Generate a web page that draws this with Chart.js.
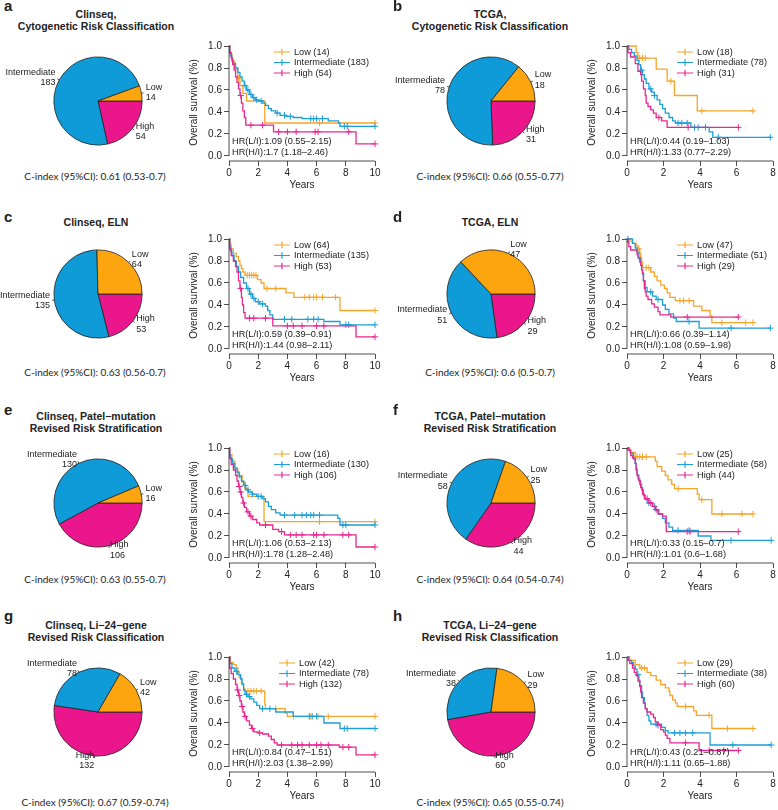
<!DOCTYPE html>
<html>
<head>
<meta charset="utf-8">
<script src="https://cdn.jsdelivr.net/npm/chart.js@4.4.1/dist/chart.umd.min.js"></script>
<style>
  html, body { margin: 0; padding: 0; background: #fff; }
  #page { position: relative; width: 778px; height: 810px; overflow: hidden;
          font-family: "Liberation Sans", Arial, sans-serif; color: #222; }
  .t { position: absolute; white-space: nowrap; line-height: 1.15; transform: translate(-50%, -50%); }
  .letter { position: absolute; white-space: nowrap; font-weight: bold; font-size: 15px;
            line-height: 1.15; transform: translate(0, -50%); }
  .title { font-weight: bold; font-size: 10.5px; }
  .cidx { font-family: Lato, "Open Sans", sans-serif; font-size: 10px; }
  canvas { position: absolute; }
</style>
</head>
<body>
<div id="page"></div>
<script>
// Risk groups (legend order) and colours
const groups = ["Low", "Intermediate", "High"];
const pieColors = ["#FDA50F", "#0F9BD7", "#EC168C"];
const kmColors = ["#F6A52A", "#1C9FD7", "#E8288F"];

const panelLetters = ["a", "b", "c", "d", "e", "f", "g", "h"];
const panelTitles = [
  ["Clinseq,", "Cytogenetic Risk Classification"],
  ["TCGA,", "Cytogenetic Risk Classification"],
  ["Clinseq, ELN"],
  ["TCGA, ELN"],
  ["Clinseq, Patel\u2212mutation", "Revised Risk Stratification"],
  ["TCGA, Patel\u2212mutation", "Revised Risk Stratification"],
  ["Clinseq, Li\u221224\u2212gene", "Revised Risk Classification"],
  ["TCGA, Li\u221224\u2212gene", "Revised Risk Classification"],
];
const cIndexText = [
  "C-index (95%CI): 0.61 (0.53-0.7)",
  "C-index (95%CI): 0.66 (0.55-0.77)",
  "C-index (95%CI): 0.63 (0.56-0.7)",
  "C-index (95%CI): 0.6 (0.5-0.7)",
  "C-index (95%CI): 0.63 (0.55-0.7)",
  "C-index (95%CI): 0.64 (0.54-0.74)",
  "C-index (95%CI): 0.67 (0.59-0.74)",
  "C-index (95%CI): 0.65 (0.55-0.74)",
];
const hrLowText = [
  "HR(L/I):1.09 (0.55\u20132.15)", "HR(L/I):0.44 (0.19\u20131.03)",
  "HR(L/I):0.59 (0.39\u20130.91)", "HR(L/I):0.66 (0.39\u20131.14)",
  "HR(L/I):1.06 (0.53\u20132.13)", "HR(L/I):0.33 (0.15\u20130.7)",
  "HR(L/I):0.84 (0.47\u20131.51)", "HR(L/I):0.43 (0.21\u20130.87)",
];
const hrHighText = [
  "HR(H/I):1.7 (1.18\u20132.46)", "HR(H/I):1.33 (0.77\u20132.29)",
  "HR(H/I):1.44 (0.98\u20132.11)", "HR(H/I):1.08 (0.59\u20131.98)",
  "HR(H/I):1.78 (1.28\u20132.48)", "HR(H/I):1.01 (0.6\u20131.68)",
  "HR(H/I):2.03 (1.38\u20132.99)", "HR(H/I):1.11 (0.65\u20131.88)",
];
const yearsMax = [10, 8, 10, 8, 10, 8, 10, 8];
const survTicks = [0, 0.2, 0.4, 0.6, 0.8, 1.0];

// Group sizes (Low, Intermediate, High)
const countsA = [14, 183, 54];
const countsB = [18, 78, 31];
const countsC = [64, 135, 53];
const countsD = [47, 51, 29];
const countsE = [16, 130, 106];
const countsF = [25, 58, 44];
const countsG = [42, 78, 132];
const countsH = [29, 38, 60];

// Kaplan-Meier steps [years, survival after step] and censoring times
const aLow = [[0,1],[0.05,.93],[0.2,.86],[0.4,.79],[0.6,.71],[0.75,.64],[0.95,.57],[1.2,.5],[2.45,.3]];
const aLowCens = [0.65, 6.2, 10];
const aInt = [[0,1],[0.05,.95],[0.1,.91],[0.2,.87],[0.3,.84],[0.45,.8],[0.6,.76],[0.75,.72],[0.9,.68],[1.05,.64],[1.2,.6],[1.4,.56],[1.6,.53],[1.8,.51],[2.0,.5],[2.3,.48],[2.5,.46],[2.7,.43],[2.9,.41],[3.2,.39],[3.5,.37],[3.9,.36],[4.4,.35],[5.0,.34],[6.8,.32],[7.5,.3],[7.6,.27]];
const aIntCens = [1.1, 1.3, 1.5, 1.7, 1.9, 2.2, 3.3, 3.8, 4.2, 5.6, 5.8, 6.0, 6.4, 7.9, 8.1, 10];
const aHigh = [[0,1],[0.05,.94],[0.15,.89],[0.25,.83],[0.35,.78],[0.45,.72],[0.55,.67],[0.65,.61],[0.75,.55],[0.85,.48],[0.95,.41],[1.05,.35],[1.15,.28],[3.05,.22],[8.7,.11]];
const aHighCens = [0.8, 1.5, 2.3, 3.4, 4.0, 4.6, 5.9, 6.1, 8.2, 10];

const bLow = [[0,1],[0.5,.94],[0.6,.89],[1.6,.79],[2.2,.68],[2.6,.55],[3.85,.41]];
const bLowCens = [0.7, 0.85, 1.0, 2.4, 4.1, 6.9];
const bInt = [[0,1],[0.1,.97],[0.25,.94],[0.4,.91],[0.55,.87],[0.65,.83],[0.75,.78],[0.85,.74],[0.95,.7],[1.05,.66],[1.2,.61],[1.35,.58],[1.5,.55],[1.65,.51],[1.8,.47],[1.95,.43],[2.1,.39],[2.3,.35],[2.5,.32],[2.65,.3],[3.5,.26],[4.5,.22],[4.7,.17]];
const bIntCens = [0.8, 1.3, 1.5, 2.8, 3.0, 3.3, 3.7, 3.9, 4.3, 5.0, 7.85];
const bHigh = [[0,1],[0.05,.94],[0.2,.9],[0.45,.84],[0.6,.77],[0.75,.74],[0.8,.68],[0.9,.61],[1.0,.55],[1.05,.48],[1.15,.45],[1.3,.42],[1.45,.39],[1.6,.35],[1.9,.32],[2.2,.26]];
const bHighCens = [1.75, 3.35, 6.1];

const cLow = [[0,1],[0.05,.95],[0.15,.91],[0.3,.87],[0.5,.84],[0.65,.8],[0.75,.76],[0.85,.73],[0.95,.7],[1.1,.67],[1.95,.63],[2.2,.6],[2.4,.55],[3.9,.51],[4.45,.47],[7.6,.35]];
const cLowCens = [1.25, 1.4, 1.55, 1.7, 1.85, 2.6, 3.2, 5.2, 5.5, 5.8, 6.0, 6.4, 7.3, 10];
const cInt = [[0,1],[0.05,.93],[0.1,.89],[0.2,.85],[0.35,.8],[0.5,.75],[0.65,.7],[0.8,.65],[1.0,.6],[1.2,.55],[1.4,.5],[1.6,.46],[1.8,.43],[2.1,.41],[2.5,.39],[2.65,.35],[2.8,.31],[3.0,.27],[6.5,.25],[7.6,.22]];
const cIntCens = [1.3, 1.5, 1.7, 2.0, 2.3, 3.8, 4.3, 5.4, 5.8, 6.1, 8.0, 8.2, 10];
const cHigh = [[0,1],[0.05,.91],[0.15,.85],[0.3,.8],[0.45,.75],[0.55,.7],[0.65,.62],[0.75,.55],[0.85,.47],[0.92,.4],[1.0,.33],[1.1,.28],[3.0,.21],[8.7,.11]];
const cHighCens = [0.8, 1.4, 1.7, 2.5, 4.0, 4.4, 5.0, 6.0, 6.5, 10];

const dLow = [[0,1],[0.1,.98],[0.3,.96],[0.5,.94],[0.6,.91],[0.7,.87],[0.75,.83],[0.8,.79],[0.85,.74],[1.3,.7],[1.5,.66],[1.65,.62],[1.85,.58],[2.05,.55],[2.2,.51],[2.35,.47],[2.65,.44],[3.65,.39],[4.1,.35],[4.55,.3],[4.65,.24]];
const dLowCens = [0.65, 1.05, 1.2, 2.9, 3.1, 3.4, 5.2, 6.5, 6.9];
const dInt = [[0,1],[0.3,.96],[0.45,.92],[0.55,.88],[0.65,.82],[0.75,.76],[0.8,.72],[0.85,.68],[0.9,.62],[1.0,.56],[1.1,.52],[1.4,.48],[1.6,.45],[1.95,.4],[2.1,.36],[2.3,.32],[2.55,.28],[2.7,.25],[3.95,.19]];
const dIntCens = [0.05, 1.3, 1.7, 3.4, 5.7, 7.85];
const dHigh = [[0,1],[0.05,.97],[0.1,.93],[0.2,.9],[0.55,.86],[0.6,.83],[0.7,.79],[0.75,.76],[0.8,.72],[0.85,.69],[0.9,.62],[0.95,.55],[1.0,.52],[1.05,.48],[1.15,.45],[1.35,.41],[1.5,.38],[1.7,.34],[1.8,.31],[2.4,.29]];
const dHighCens = [3.3, 6.1];

const eLow = [[0,1],[0.05,.94],[0.2,.88],[0.4,.81],[0.6,.75],[0.9,.69],[1.1,.63],[1.3,.56],[2.4,.33]];
const eLowCens = [0.7, 6.2, 10];
const eInt = [[0,1],[0.05,.94],[0.1,.9],[0.25,.86],[0.4,.82],[0.55,.78],[0.7,.74],[0.85,.7],[1.0,.66],[1.15,.62],[1.35,.6],[1.6,.58],[1.9,.56],[2.3,.54],[2.5,.51],[2.7,.47],[2.9,.44],[3.2,.41],[3.5,.39],[7.45,.36],[7.6,.3]];
const eIntCens = [1.1, 1.3, 1.6, 2.0, 2.2, 3.8, 4.5, 5.0, 5.3, 5.6, 5.8, 6.2, 7.8, 8.0, 10];
const eHigh = [[0,1],[0.05,.91],[0.15,.85],[0.3,.8],[0.45,.75],[0.55,.7],[0.65,.65],[0.75,.6],[0.85,.55],[0.95,.5],[1.05,.46],[1.2,.42],[1.4,.38],[1.6,.35],[1.9,.32],[2.1,.3],[3.0,.26],[3.4,.24],[3.8,.21],[8.7,.1]];
const eHighCens = [0.7, 0.8, 1.0, 1.3, 1.5, 2.5, 3.6, 4.2, 4.6, 5.0, 5.8, 6.0, 6.5, 7.8, 8.2, 10];

const fLow = [[0,1],[0.15,.96],[0.45,.92],[1.55,.88],[1.65,.83],[1.9,.79],[2.1,.75],[2.25,.71],[2.45,.67],[2.6,.63],[3.85,.58],[3.95,.53],[4.65,.4]];
const fLowCens = [0.55, 0.7, 0.85, 1.05, 2.8, 4.1, 5.2, 6.3, 6.9];
const fInt = [[0,1],[0.05,.98],[0.2,.95],[0.35,.9],[0.45,.86],[0.5,.81],[0.55,.76],[0.6,.72],[0.7,.67],[0.8,.62],[0.9,.57],[1.0,.53],[1.2,.5],[1.4,.47],[1.55,.43],[1.75,.4],[1.95,.36],[2.1,.32],[2.3,.28],[2.5,.25],[3.9,.2],[4.6,.16]];
const fIntCens = [1.2, 1.5, 2.8, 3.4, 5.7, 7.9];
const fHigh = [[0,1],[0.1,.98],[0.2,.93],[0.3,.91],[0.45,.86],[0.5,.8],[0.55,.75],[0.65,.7],[0.75,.64],[0.85,.58],[0.95,.54],[1.15,.5],[1.4,.47],[1.55,.44],[1.7,.4],[1.95,.38],[2.15,.24]];
const fHighCens = [1.1, 1.3, 1.6, 3.3, 3.45, 6.1];

const gLow = [[0,1],[0.1,.95],[0.3,.93],[0.5,.9],[0.6,.86],[0.7,.81],[0.85,.76],[1.0,.71],[1.1,.69],[2.45,.57],[2.5,.53],[3.85,.49],[4.0,.46]];
const gLowCens = [1.3, 1.5, 1.7, 1.9, 2.2, 3.2, 4.4, 5.6, 6.1, 6.8, 10];
const gInt = [[0,1],[0.05,.94],[0.2,.9],[0.4,.87],[0.6,.84],[0.8,.8],[0.9,.75],[1.0,.7],[1.1,.66],[1.3,.64],[1.5,.62],[1.7,.59],[1.9,.56],[2.1,.53],[3.2,.5],[4.4,.46],[6.5,.4],[7.6,.35]];
const gIntCens = [0.5, 1.2, 1.4, 2.3, 2.8, 5.5, 5.7, 6.0, 7.9, 8.1, 10];
const gHigh = [[0,1],[0.05,.9],[0.15,.85],[0.3,.8],[0.45,.75],[0.55,.7],[0.65,.65],[0.75,.6],[0.85,.55],[0.95,.5],[1.05,.46],[1.2,.42],[1.4,.38],[1.55,.35],[1.7,.32],[2.0,.31],[2.3,.3],[2.7,.28],[2.9,.25],[3.1,.22],[3.3,.2],[7.55,.18],[8.7,.11]];
const gHighCens = [0.6, 0.7, 0.9, 1.1, 1.6, 2.1, 3.6, 4.3, 4.7, 5.0, 5.5, 6.0, 6.3, 6.8, 7.8, 8.2, 10];

const hLow = [[0,1],[0.15,.97],[0.45,.93],[0.7,.9],[1.1,.86],[1.3,.83],[1.6,.79],[1.85,.75],[2.1,.72],[2.3,.69],[2.35,.65],[2.5,.61],[2.65,.58],[2.75,.55],[3.65,.51],[3.8,.47],[4.65,.35]];
const hLowCens = [0.8, 0.95, 3.2, 4.5, 5.5, 6.9];
const hInt = [[0,1],[0.1,.97],[0.25,.95],[0.35,.92],[0.45,.89],[0.55,.84],[0.65,.79],[0.7,.74],[0.8,.68],[0.85,.63],[0.95,.58],[1.0,.53],[1.1,.47],[1.2,.42],[1.3,.39],[1.9,.36],[2.1,.33],[2.25,.31],[4.55,.2]];
const hIntCens = [0.6, 1.6, 2.6, 2.9, 3.2, 3.6, 5.8, 7.9];
const hHigh = [[0,1],[0.05,.97],[0.15,.94],[0.3,.9],[0.4,.86],[0.5,.83],[0.6,.78],[0.7,.73],[0.75,.68],[0.8,.63],[0.9,.58],[1.0,.53],[1.1,.5],[1.3,.48],[1.45,.45],[1.55,.41],[1.7,.38],[1.85,.34],[2.0,.32],[2.1,.29],[2.2,.26],[2.35,.22],[3.95,.15]];
const hHighCens = [1.7, 3.2, 4.5, 5.3, 6.1];

const panelCounts = [countsA, countsB, countsC, countsD, countsE, countsF, countsG, countsH];
const panelCurves = [
  [aLow, aInt, aHigh], [bLow, bInt, bHigh], [cLow, cInt, cHigh], [dLow, dInt, dHigh],
  [eLow, eInt, eHigh], [fLow, fInt, fHigh], [gLow, gInt, gHigh], [hLow, hInt, hHigh],
];
const panelCens = [
  [aLowCens, aIntCens, aHighCens], [bLowCens, bIntCens, bHighCens],
  [cLowCens, cIntCens, cHighCens], [dLowCens, dIntCens, dHighCens],
  [eLowCens, eIntCens, eHighCens], [fLowCens, fIntCens, fHighCens],
  [gLowCens, gIntCens, gHighCens], [hLowCens, hIntCens, hHighCens],
];

// Layout
const rowTop = [0, 193, 402, 611];
const letterX = [4, 393];
const letterY = [5.7, 217.2, 410.4, 615.7];
const titleX = [96, 490];
const pieCx = [97.5, 490.5];
const kmLeft = [229, 627];
const kmRight = [375, 775];
const cIndexX = [95, 490];
const cIndexY = [177, 373, 580, 803];

Chart.defaults.font.family = '"Liberation Sans", Arial, sans-serif';
Chart.defaults.color = "#222";

const page = document.getElementById("page");

function addText(cls, text, x, y) {
  const d = document.createElement("div");
  d.className = cls;
  d.textContent = text;
  d.style.left = x + "px";
  d.style.top = y + "px";
  page.appendChild(d);
  return d;
}

function addCanvas(x, y, w, h) {
  const c = document.createElement("canvas");
  c.width = w;
  c.height = h;
  c.style.left = x + "px";
  c.style.top = y + "px";
  c.style.width = w + "px";
  c.style.height = h + "px";
  page.appendChild(c);
  return c;
}

// R-style pie labels: tick from r to 1.05r, text at 1.1r
const pieLabels = {
  id: "pieLabels",
  afterDraw(chart) {
    const ctx = chart.ctx;
    const meta = chart.getDatasetMeta(0);
    const values = chart.data.datasets[0].data;
    const names = chart.data.labels;
    ctx.save();
    ctx.font = '9px "Liberation Sans", Arial, sans-serif';
    ctx.fillStyle = "#222";
    ctx.strokeStyle = "#222";
    ctx.lineWidth = 0.8;
    ctx.textBaseline = "middle";
    meta.data.forEach((arc, i) => {
      const p = arc.getProps(["x", "y", "startAngle", "endAngle", "outerRadius"], true);
      const mid = (p.startAngle + p.endAngle) / 2;
      const dx = Math.cos(mid) * p.outerRadius;
      const dy = Math.sin(mid) * p.outerRadius;
      ctx.beginPath();
      ctx.moveTo(p.x + dx, p.y + dy);
      ctx.lineTo(p.x + 1.05 * dx, p.y + 1.05 * dy);
      ctx.stroke();
      const lx = p.x + 1.1 * dx;
      const ly = p.y + 1.1 * dy;
      ctx.textAlign = dx < 0 ? "right" : "left";
      ctx.fillText(names[i], lx, ly - 5.25);
      ctx.fillText(String(values[i]), lx, ly + 5.25);
    });
    ctx.restore();
  },
};

// axis lines, legend and hazard ratio text for the survival plots
const kmDecor = {
  id: "kmDecor",
  afterDraw(chart, args, opts) {
    const { ctx, chartArea: area, scales: { x, y } } = chart;
    ctx.save();
    ctx.strokeStyle = "#222";
    ctx.lineWidth = 0.8;
    ctx.beginPath();
    ctx.moveTo(area.left, y.getPixelForValue(0));
    ctx.lineTo(area.left, y.getPixelForValue(1));
    ctx.moveTo(x.getPixelForValue(0), area.bottom);
    ctx.lineTo(x.getPixelForValue(x.max), area.bottom);
    ctx.stroke();

    ctx.font = '9.2px "Liberation Sans", Arial, sans-serif';
    ctx.textBaseline = "middle";
    ctx.textAlign = "left";
    const top = y.getPixelForValue(1);
    const textW = Math.max(...opts.labels.map(s => ctx.measureText(s).width));
    const textX = area.right - 6 - textW;
    opts.labels.forEach((lab, i) => {
      const ly = top + 6 + i * 10.5;
      ctx.strokeStyle = opts.colors[i];
      ctx.lineWidth = 1.2;
      ctx.beginPath();
      ctx.moveTo(textX - 20, ly);
      ctx.lineTo(textX - 4, ly);
      ctx.moveTo(textX - 12, ly - 3.2);
      ctx.lineTo(textX - 12, ly + 3.2);
      ctx.stroke();
      ctx.fillStyle = "#222";
      ctx.fillText(lab, textX, ly);
    });
    const zero = y.getPixelForValue(0);
    ctx.fillText(opts.hr[0], area.left + 3, zero - 15);
    ctx.fillText(opts.hr[1], area.left + 3, zero - 4);
    ctx.restore();
  },
};

function survAt(steps, t) {
  let s = steps[0][1];
  steps.forEach(([x, y]) => { if (x <= t) s = y; });
  return s;
}

function kmDatasets(curves, cens) {
  const sets = [];
  for (let g = groups.length - 1; g >= 0; g--) {
    const steps = curves[g];
    const last = steps[steps.length - 1];
    const tEnd = Math.max(last[0], ...cens[g]);
    const line = steps.map(([x, y]) => ({ x, y }));
    if (tEnd > last[0]) line.push({ x: tEnd, y: last[1] });
    sets.push({
      data: line, borderColor: kmColors[g], borderWidth: 1.3,
      stepped: true, pointRadius: 0, fill: false, clip: false,
    });
    sets.push({
      data: cens[g].map(t => ({ x: t, y: survAt(steps, t) })),
      showLine: false, pointStyle: "cross", pointRadius: 3.2, pointBorderWidth: 1,
      borderColor: kmColors[g], backgroundColor: kmColors[g], clip: false,
    });
  }
  return sets;
}

const axisFont = { size: 10 };

panelLetters.forEach((letter, p) => {
  const row = Math.floor(p / 2);
  const col = p % 2;
  const top = rowTop[row];

  addText("letter", letter, letterX[col], letterY[row]);
  const lines = panelTitles[p];
  if (lines.length === 1) {
    addText("t title", lines[0], titleX[col], top + 29);
  } else {
    addText("t title", lines[0], titleX[col], top + 13.5);
    addText("t title", lines[1], titleX[col], top + 25.5);
  }
  addText("t cidx", cIndexText[p], cIndexX[col], cIndexY[row]);

  // pie of group sizes, drawn counter-clockwise from 3 o'clock like R
  const counts = panelCounts[p];
  const pieCanvas = addCanvas(pieCx[col] - 100, top + 101 - 70, 200, 140);
  new Chart(pieCanvas, {
    type: "pie",
    data: {
      labels: [...groups].reverse(),
      datasets: [{
        data: [...counts].reverse(),
        backgroundColor: [...pieColors].reverse(),
        borderColor: "#222",
        borderWidth: 0.8,
      }],
    },
    options: {
      responsive: false,
      animation: false,
      events: [],
      rotation: 90,
      layout: { padding: { left: 55.5, right: 55.5, top: 25.5, bottom: 25.5 } },
      plugins: { legend: { display: false }, tooltip: { enabled: false } },
    },
    plugins: [pieLabels],
  });

  // Kaplan-Meier curves
  const left = kmLeft[col] - 41;
  const width = Math.min(778, kmRight[col] + 8) - left;
  const kmCanvas = addCanvas(left, top + 32, width, 161);
  new Chart(kmCanvas, {
    type: "line",
    data: { datasets: kmDatasets(panelCurves[p], panelCens[p]) },
    options: {
      responsive: false,
      animation: false,
      events: [],
      layout: { padding: { top: 12, right: width - (kmRight[col] - left), bottom: 2, left: 0 } },
      plugins: {
        legend: { display: false },
        tooltip: { enabled: false },
        kmDecor: {
          labels: groups.map((g, i) => g + " (" + counts[i] + ")"),
          colors: kmColors,
          hr: [hrLowText[p], hrHighText[p]],
        },
      },
      scales: {
        x: {
          type: "linear",
          min: 0,
          max: yearsMax[p],
          ticks: { stepSize: 2, padding: 1, maxRotation: 0, font: axisFont, color: "#222" },
          grid: { drawOnChartArea: false, tickLength: 5, color: "#222", lineWidth: 0.8 },
          border: { display: false },
          title: { display: true, text: "Years", font: axisFont, color: "#222", padding: 0 },
          afterFit: s => { s.height = 30; },
        },
        y: {
          type: "linear",
          min: -0.0455,
          max: 1.0182,
          afterBuildTicks: s => { s.ticks = survTicks.map(v => ({ value: v })); },
          ticks: { callback: v => v.toFixed(1), padding: 2, font: axisFont, color: "#222" },
          grid: { drawOnChartArea: false, tickLength: 5, color: "#222", lineWidth: 0.8 },
          border: { display: false },
          title: { display: true, text: "Overall survival (%)", font: axisFont, color: "#222", padding: 0 },
          afterFit: s => { s.width = 41; },
        },
      },
    },
    plugins: [kmDecor],
  });
});
</script>
</body>
</html>
